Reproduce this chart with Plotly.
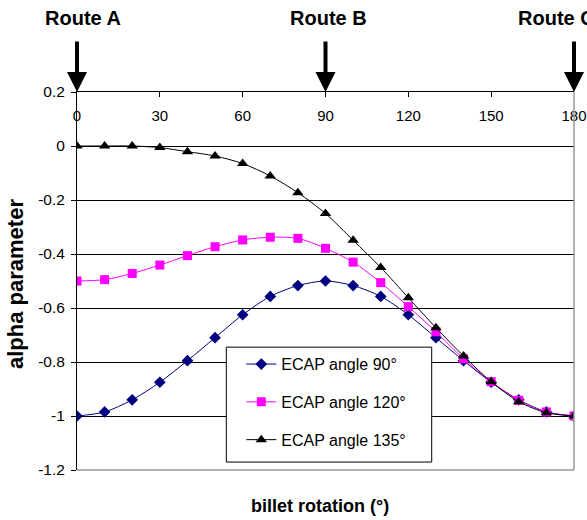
import plotly.graph_objects as go

rotation = [0, 10, 20, 30, 40, 50, 60, 70, 80, 90, 100, 110, 120, 130, 140, 150, 160, 170, 180]
ecap90 = [-1.0, -0.985, -0.94, -0.875, -0.795, -0.71, -0.625, -0.557, -0.517, -0.5,
          -0.517, -0.557, -0.625, -0.71, -0.795, -0.875, -0.94, -0.985, -1.0]
ecap120 = [-0.5, -0.495, -0.472, -0.441, -0.406, -0.373, -0.348, -0.338, -0.342, -0.379,
           -0.43, -0.506, -0.595, -0.688, -0.788, -0.873, -0.942, -0.985, -1.0]
ecap135 = [0.0, 0.0, 0.0, -0.006, -0.021, -0.037, -0.065, -0.111, -0.173, -0.25,
           -0.349, -0.45, -0.562, -0.673, -0.778, -0.873, -0.947, -0.988, -1.0]

series_names = ["ECAP angle 90°", "ECAP angle 120°", "ECAP angle 135°"]
x_ticks = [0, 30, 60, 90, 120, 150, 180]
y_ticks = [0.2, 0, -0.2, -0.4, -0.6, -0.8, -1, -1.2]
y_ticktext = ["0.2", "0", "-0.2", "-0.4", "-0.6", "-0.8", "-1", "-1.2"]
routes = ["Route A", "Route B", "Route C"]
route_angles = [0, 90, 180]

FONT = "Liberation Sans, Arial, sans-serif"

fig = go.Figure()
styles = [
    dict(color="#000080", symbol="diamond", size=9),
    dict(color="#FF00FF", symbol="square", size=9),
    dict(color="#000000", symbol="triangle-up", size=10),
]
for name, vals, st in zip(series_names, [ecap90, ecap120, ecap135], styles):
    fig.add_trace(go.Scatter(
        x=rotation, y=vals, name=name, mode="lines+markers",
        line=dict(color=st["color"], width=1, shape="spline", smoothing=0.8),
        marker=dict(color=st["color"], symbol=st["symbol"], size=st["size"]),
        legendgroup=name,
    ))

fig.update_layout(
    width=587, height=520,
    margin=dict(l=77, r=13, t=92, b=50, autoexpand=False),
    paper_bgcolor="white", plot_bgcolor="white",
    font=dict(family=FONT, size=15, color="black"),
    showlegend=True,
    legend=dict(
        x=0.3306, y=0.325, xanchor="left", yanchor="top",
        bgcolor="rgba(0,0,0,0)", borderwidth=0,
        font=dict(family=FONT, size=16, color="black"),
        tracegroupgap=14,
    ),
    xaxis=dict(
        range=[0, 180], side="top", tickvals=x_ticks,
        ticks="inside", ticklen=5, tickcolor="black",
        ticklabelposition="inside", ticklabeloverflow="allow",
        ticklabelstandoff=13, automargin=False,
        showline=True, linecolor="black", linewidth=1,
        showgrid=False, zeroline=False,
        tickfont=dict(family=FONT, size=15, color="black"),
    ),
    yaxis=dict(
        range=[-1.2, 0.2], tickvals=y_ticks, ticktext=y_ticktext,
        ticks="outside", ticklen=5, tickcolor="black", automargin=False,
        ticklabelstandoff=3,
        showline=True, linecolor="black", linewidth=1,
        showgrid=True, gridcolor="black", gridwidth=1,
        zeroline=False,
        tickfont=dict(family=FONT, size=15.5, color="black"),
    ),
)

# gray right and bottom borders
fig.add_shape(type="line", xref="paper", yref="paper", x0=1, x1=1, y0=0, y1=1,
              line=dict(color="#9a9a9a", width=1.5))
fig.add_shape(type="line", xref="paper", yref="paper", x0=0, x1=1, y0=0, y1=0,
              line=dict(color="#9a9a9a", width=1.5))
# legend box
fig.add_shape(type="rect", xref="paper", yref="paper",
              x0=0.3004, x1=0.7137, y0=0.021, y1=0.325,
              fillcolor="white", line=dict(color="black", width=1), layer="above")

# axis titles
fig.add_annotation(text="<b>alpha parameter</b>", xref="paper", yref="paper",
                   x=-0.124, y=0.493, textangle=-90, showarrow=False,
                   xanchor="center", yanchor="middle",
                   font=dict(family=FONT, size=22, color="black"))
fig.add_annotation(text="<b>billet rotation (°)</b>", xref="paper", yref="paper",
                   x=0.488, y=-0.095, showarrow=False,
                   xanchor="center", yanchor="middle",
                   font=dict(family=FONT, size=18, color="black"))

# route labels and arrows
label_pos = [0.012, 0.506, 0.964]
for r, ang, lp in zip(routes, route_angles, label_pos):
    fig.add_annotation(text="<b>" + r + "</b>", xref="paper", yref="paper",
                       x=lp, y=1.196, showarrow=False,
                       xanchor="center", yanchor="middle",
                       font=dict(family=FONT, size=20, color="black"))
    fig.add_annotation(text="", x=ang, y=0.2, xref="x", yref="y",
                       showarrow=True, ax=0, ay=-52,
                       arrowhead=2, arrowwidth=4, arrowsize=1.0,
                       arrowcolor="black", standoff=0)

fig.write_html("out.html", config={"displayModeBar": False},
               post_script="document.body.style.margin='0px';")
